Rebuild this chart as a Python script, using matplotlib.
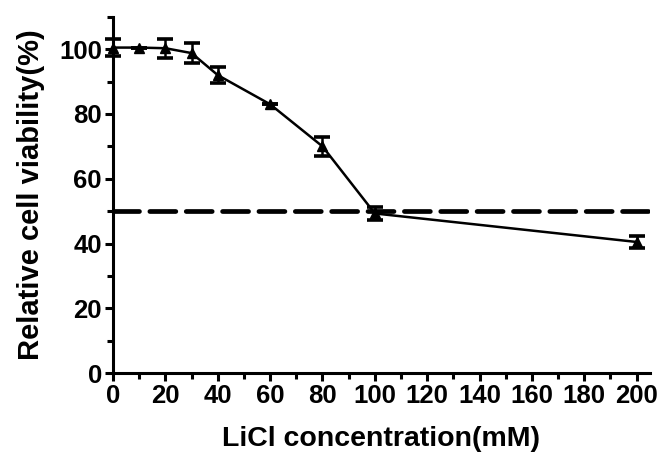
import matplotlib
matplotlib.use("Agg")
import matplotlib.pyplot as plt
from matplotlib.ticker import MultipleLocator

# ── data ──────────────────────────────────────────────────────────────────────

conc      = [0, 10, 20, 30, 40, 60, 80, 100, 200]
viability = [100.5, 100.5, 100.3, 98.8, 92.0, 83.0, 70.0, 49.3, 40.5]
err       = [2.5, 0.0, 3.0, 3.0, 2.5, 0.0, 3.0, 2.0, 1.8]
threshold = 50

plt.rcParams["font.family"] = ["Liberation Sans", "DejaVu Sans"]
plt.rcParams["font.weight"] = "bold"

fig = plt.figure(figsize=(6.61, 4.54), dpi=100)
ax = fig.add_axes([0.171, 0.178, 0.812, 0.785])

ax.axhline(threshold, color="black", lw=3.4, ls=(0, (5.5, 2.2)),
           dash_capstyle="round", zorder=2)

ax.errorbar(conc, viability, yerr=err, color="black", lw=1.8,
            marker="^", markersize=7, capsize=5.5, capthick=2.6,
            elinewidth=1.8, clip_on=False, zorder=3)

ax.set_xlim(0, 205)
ax.set_ylim(0, 110)

ax.xaxis.set_major_locator(MultipleLocator(20))
ax.xaxis.set_minor_locator(MultipleLocator(10))
ax.yaxis.set_major_locator(MultipleLocator(20))
ax.yaxis.set_minor_locator(MultipleLocator(10))
ax.set_xticks(range(0, 201, 20))

for s in ["top", "right"]:
    ax.spines[s].set_visible(False)
for s in ["left", "bottom"]:
    ax.spines[s].set_linewidth(2.2)

ax.tick_params(which="major", length=6, width=2.2, labelsize=18.5, pad=2)
ax.tick_params(which="minor", length=4, width=2.2)
for lab in ax.get_xticklabels() + ax.get_yticklabels():
    lab.set_fontweight("bold")

ax.set_xlabel("LiCl concentration(mM)", fontsize=20.5, fontweight="bold", labelpad=13)
ax.set_ylabel("Relative cell viability(%)", fontsize=21, fontweight="bold", labelpad=10)

fig.savefig("out.png", dpi=100)
